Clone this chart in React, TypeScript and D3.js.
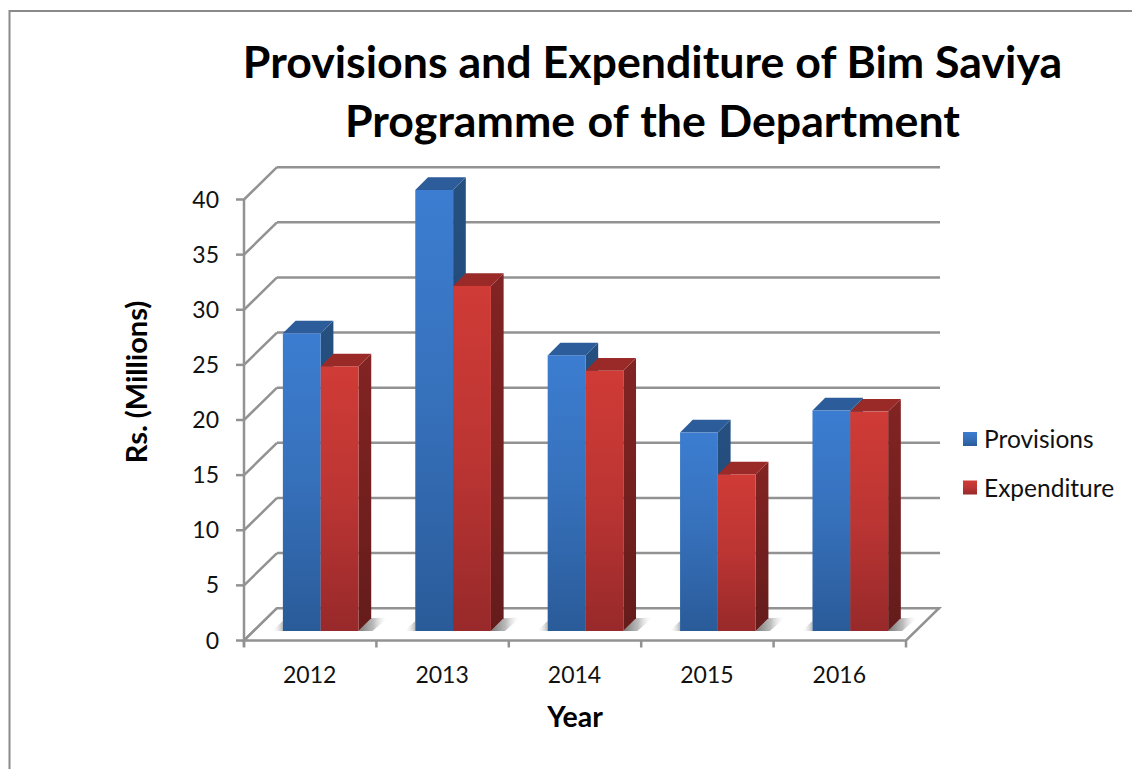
import * as d3 from "d3";

// Departmental programme figures, Rs. millions
const years = ["2012", "2013", "2014", "2015", "2016"];
const seriesNames = ["Provisions", "Expenditure"];
const provisions = [27, 40, 25, 18, 20];
const expenditure = [24, 31.3, 23.6, 14.2, 19.9];
const valueTicks = [0, 5, 10, 15, 20, 25, 30, 35, 40];
const titleLines = ["Provisions and Expenditure of Bim Saviya", "Programme of the Department"];

const W = 1132;
const H = 769;
const FONT = "Lato, Carlito, Calibri, sans-serif";
const GRID = "#929292";

// Chart box in front-plane coordinates
const left = 244;
const right = 906;
const baseY = 640.5;
const topY = 199.5;
const wall = 33; // oblique run of the back wall along x
const wallRise = 32.3; // and along y
const barInset = 9.5; // bars stand this far into the floor
const barShiftX = 1;
const barDepth = 12.7;

const y = d3.scaleLinear().domain([0, 40]).range([baseY, topY]);
const xEdges = d3.scaleBand<string>().domain(years).range([left, right]);
const xSeries = d3
  .scaleBand<string>()
  .domain(seriesNames)
  .range([0, xEdges.bandwidth()])
  .paddingInner(0)
  .paddingOuter(0.75);

const palette: Record<string, { side: [string, string]; top: string; grad: string }> = {
  Provisions: { side: ["#25507f", "#1f4374"], top: "#2c5c99", grad: "gradBlue" },
  Expenditure: { side: ["#822423", "#641c1b"], top: "#9a2a27", grad: "gradRed" },
};

const rows = years.map((year, i) => ({
  year,
  values: [
    { name: seriesNames[0], value: provisions[i] },
    { name: seriesNames[1], value: expenditure[i] },
  ],
}));

const pts = (...p: [number, number][]) => p.map((q) => q.join(",")).join(" ");

function Bar({ year, name, value }: { year: string; name: string; value: number }) {
  const x0 = (xEdges(year) as number) + barInset + barShiftX + (xSeries(name) as number);
  const x1 = x0 + xSeries.bandwidth();
  const yTop = y(value) - barInset;
  const yBase = baseY - barInset;
  const c = palette[name];
  return (
    <g>
      <polygon
        points={pts([x1, yTop], [x1 + barDepth, yTop - barDepth], [x1 + barDepth, yBase - barDepth], [x1, yBase])}
        fill={`url(#${c.grad}Side)`}
      />
      <polygon
        points={pts([x0, yTop], [x0 + barDepth, yTop - barDepth], [x1 + barDepth, yTop - barDepth], [x1, yTop])}
        fill={c.top}
      />
      <rect x={x0} y={yTop} width={x1 - x0} height={yBase - yTop} fill={`url(#${c.grad})`} />
    </g>
  );
}

export default function App() {
  return (
    <svg
      width={W}
      height={H}
      viewBox={`0 0 ${W} ${H}`}
      style={{ position: "absolute", left: 0, top: 0, background: "#fff" }}
    >
      <defs>
        <linearGradient id="gradBlue" x1="0" y1="0" x2="0" y2="1">
          <stop offset="0" stopColor="#3c7dd1" />
          <stop offset="0.5" stopColor="#3670ba" />
          <stop offset="1" stopColor="#2a5b99" />
        </linearGradient>
        <linearGradient id="gradRed" x1="0" y1="0" x2="0" y2="1">
          <stop offset="0" stopColor="#d03b36" />
          <stop offset="0.5" stopColor="#bb3533" />
          <stop offset="1" stopColor="#98292a" />
        </linearGradient>
        {seriesNames.map((n) => (
          <linearGradient key={n} id={`${palette[n].grad}Side`} x1="0" y1="0" x2="0" y2="1">
            <stop offset="0" stopColor={palette[n].side[0]} />
            <stop offset="1" stopColor={palette[n].side[1]} />
          </linearGradient>
        ))}
        <linearGradient id="floorShadow" x1="0" y1="0" x2="1" y2="0">
          <stop offset="0" stopColor="#7a7a7a" />
          <stop offset="0.5" stopColor="#bdbdbd" />
          <stop offset="1" stopColor="#ffffff" stopOpacity="0" />
        </linearGradient>
        <linearGradient id="floorShadowLeft" x1="1" y1="0" x2="0" y2="0">
          <stop offset="0" stopColor="#b8b8b8" />
          <stop offset="1" stopColor="#ffffff" stopOpacity="0" />
        </linearGradient>
      </defs>

      {/* outer frame */}
      <path d={`M9.5 ${H} V11 H${W}`} fill="none" stroke="#8a8a8a" strokeWidth={2} />

      {/* back wall gridlines and their returns to the value axis */}
      {valueTicks.map((v) => (
        <g key={v}>
          <line
            x1={left + wall}
            x2={right + wall + 1}
            y1={y(v) - wallRise}
            y2={y(v) - wallRise}
            stroke={GRID}
            strokeWidth={2.5}
          />
          <line x1={left} x2={left + wall} y1={y(v)} y2={y(v) - wallRise} stroke={GRID} strokeWidth={2.5} />
        </g>
      ))}

      {/* floor */}
      <polygon
        points={pts([left, baseY], [left + wall, baseY - wallRise], [right + wall, baseY - wallRise], [right, baseY])}
        fill="#fff"
        stroke={GRID}
        strokeWidth={2.5}
      />

      {/* value axis */}
      <line x1={left} x2={left} y1={topY} y2={baseY + 6} stroke={GRID} strokeWidth={2.5} />
      {valueTicks.map((v) => (
        <g key={v}>
          <line x1={left - 8} x2={left} y1={y(v)} y2={y(v)} stroke={GRID} strokeWidth={2.5} />
          <text x={219} y={y(v) + 8} textAnchor="end" fontFamily={FONT} fontSize={23} fill="#111">
            {v}
          </text>
        </g>
      ))}

      {/* category axis */}
      {[...years.map((c) => xEdges(c) as number), right].map((tx) => (
        <line key={tx} x1={tx} x2={tx} y1={baseY} y2={baseY + 7} stroke={GRID} strokeWidth={2.5} />
      ))}
      {years.map((c) => (
        <text
          key={c}
          x={(xEdges(c) as number) + xEdges.bandwidth() / 2 - 0.5}
          y={683}
          textAnchor="middle"
          fontFamily={FONT}
          fontSize={23}
          fill="#111"
        >
          {c}
        </text>
      ))}

      {/* bars with their cast shadows on the floor */}
      {rows.map((r) => {
        const gx0 = (xEdges(r.year) as number) + barInset + barShiftX + (xSeries(seriesNames[0]) as number);
        const gx1 = gx0 + 2 * xSeries.bandwidth();
        const by = baseY - barInset;
        return (
          <g key={r.year}>
            <polygon
              points={pts([gx1, by], [gx1 + barDepth, by - barDepth], [gx1 + 30, by - barDepth - 1], [gx1 + 14, by])}
              fill="url(#floorShadow)"
            />
            <polygon points={pts([gx0 - 11, by], [gx0, by - 10], [gx0, by])} fill="url(#floorShadowLeft)" />
            {r.values.map((d) => (
              <Bar key={d.name} year={r.year} name={d.name} value={d.value} />
            ))}
          </g>
        );
      })}

      {/* title */}
      {titleLines.map((t, i) => (
        <text
          key={t}
          x={652.5}
          y={78 + i * 58.5}
          textAnchor="middle"
          fontFamily={FONT}
          fontWeight={700}
          fontSize={44.7}
          wordSpacing={i === 1 ? 1.5 : 0}
          fill="#000"
        >
          {t}
        </text>
      ))}

      {/* axis titles */}
      <text
        transform="translate(147,382) rotate(-90)"
        textAnchor="middle"
        fontFamily={FONT}
        fontWeight={700}
        fontSize={29}
        fill="#000"
      >
        Rs. (Millions)
      </text>
      <text x={575} y={727} textAnchor="middle" fontFamily={FONT} fontWeight={700} fontSize={28.5} fill="#000">
        Year
      </text>

      {/* legend */}
      {seriesNames.map((n, i) => (
        <g key={n}>
          <rect x={963} y={432 + i * 48.5} width={14} height={14} fill={`url(#${palette[n].grad})`} />
          <text x={984} y={448 + i * 48.5} fontFamily={FONT} fontSize={24.5} fill="#111">
            {n}
          </text>
        </g>
      ))}
    </svg>
  );
}
